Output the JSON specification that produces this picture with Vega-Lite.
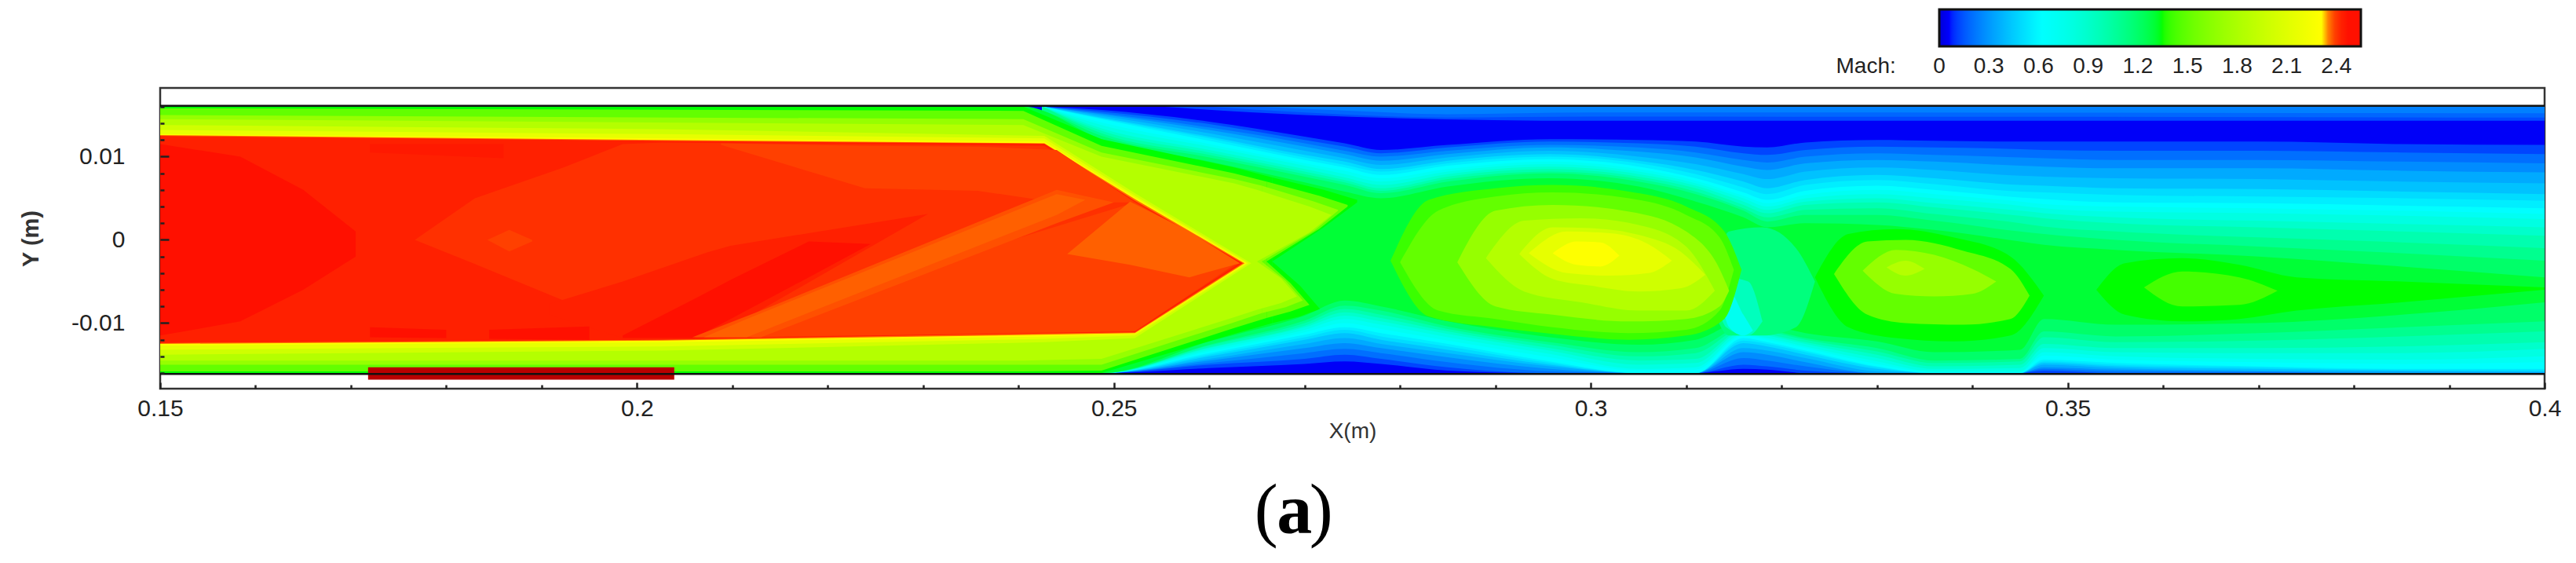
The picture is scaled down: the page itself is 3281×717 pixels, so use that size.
{
"$schema":"https://vega.github.io/schema/vega-lite/v6.json",
"width":3037,"height":383,
"autosize":{"type":"none"},
"padding":{"left":204,"top":112,"right":40,"bottom":222},
"background":"white",
"view":{"stroke":"#333333","strokeWidth":2.5,"fill":"white"},
"resolve":{"axis":{"x":"independent","y":"independent"}},
"layer":[
{"data":{"values":[
{"s":1,"m":0.05,"x":0.15,"y":0.016,"y2":-0.016},{"s":1,"m":0.05,"x":0.4,"y":0.016,"y2":-0.016},
{"s":101,"m":0.12,"x":0.2425,"y":0.016,"y2":-0.016},{"s":101,"m":0.12,"x":0.2487,"y":0.0156,"y2":-0.016},{"s":101,"m":0.12,"x":0.26,"y":0.0142,"y2":-0.0154},{"s":101,"m":0.12,"x":0.27,"y":0.0124,"y2":-0.0149},{"s":101,"m":0.12,"x":0.2742,"y":0.0116,"y2":-0.0146},{"s":101,"m":0.12,"x":0.278,"y":0.0108,"y2":-0.0149},{"s":101,"m":0.12,"x":0.285,"y":0.0114,"y2":-0.0157},{"s":101,"m":0.12,"x":0.2957,"y":0.0121,"y2":-0.016},{"s":101,"m":0.12,"x":0.305,"y":0.012,"y2":-0.016},{"s":101,"m":0.12,"x":0.311,"y":0.0118,"y2":-0.016},{"s":101,"m":0.12,"x":0.316,"y":0.0112,"y2":-0.0155},{"s":101,"m":0.12,"x":0.3185,"y":0.0111,"y2":-0.0156},{"s":101,"m":0.12,"x":0.3225,"y":0.0117,"y2":-0.016},{"s":101,"m":0.12,"x":0.33,"y":0.012,"y2":-0.016},{"s":101,"m":0.12,"x":0.336,"y":0.0119,"y2":-0.016},{"s":101,"m":0.12,"x":0.345,"y":0.0118,"y2":-0.016},{"s":101,"m":0.12,"x":0.3475,"y":0.0118,"y2":-0.016},{"s":101,"m":0.12,"x":0.355,"y":0.0118,"y2":-0.016},{"s":101,"m":0.12,"x":0.37,"y":0.0118,"y2":-0.016},{"s":101,"m":0.12,"x":0.385,"y":0.0115,"y2":-0.016},{"s":101,"m":0.12,"x":0.4,"y":0.0114,"y2":-0.016},
{"s":2,"m":0.2,"x":0.2425,"y":0.016,"y2":-0.016},{"s":2,"m":0.2,"x":0.2487,"y":0.0154,"y2":-0.016},{"s":2,"m":0.2,"x":0.26,"y":0.0139,"y2":-0.015},{"s":2,"m":0.2,"x":0.27,"y":0.012,"y2":-0.0143},{"s":2,"m":0.2,"x":0.2742,"y":0.0112,"y2":-0.0138},{"s":2,"m":0.2,"x":0.278,"y":0.0104,"y2":-0.0143},{"s":2,"m":0.2,"x":0.285,"y":0.0111,"y2":-0.0153},{"s":2,"m":0.2,"x":0.2957,"y":0.0118,"y2":-0.016},{"s":2,"m":0.2,"x":0.305,"y":0.0116,"y2":-0.016},{"s":2,"m":0.2,"x":0.311,"y":0.0112,"y2":-0.016},{"s":2,"m":0.2,"x":0.316,"y":0.0104,"y2":-0.015},{"s":2,"m":0.2,"x":0.3185,"y":0.0102,"y2":-0.0152},{"s":2,"m":0.2,"x":0.3225,"y":0.0108,"y2":-0.0157},{"s":2,"m":0.2,"x":0.33,"y":0.0112,"y2":-0.016},{"s":2,"m":0.2,"x":0.336,"y":0.0111,"y2":-0.016},{"s":2,"m":0.2,"x":0.345,"y":0.0109,"y2":-0.016},{"s":2,"m":0.2,"x":0.3475,"y":0.0108,"y2":-0.0157},{"s":2,"m":0.2,"x":0.355,"y":0.0107,"y2":-0.016},{"s":2,"m":0.2,"x":0.37,"y":0.0107,"y2":-0.016},{"s":2,"m":0.2,"x":0.385,"y":0.0105,"y2":-0.016},{"s":2,"m":0.2,"x":0.4,"y":0.0103,"y2":-0.016},
{"s":102,"m":0.27,"x":0.2425,"y":0.016,"y2":-0.016},{"s":102,"m":0.27,"x":0.2487,"y":0.0152,"y2":-0.016},{"s":102,"m":0.27,"x":0.26,"y":0.0135,"y2":-0.0148},{"s":102,"m":0.27,"x":0.27,"y":0.0116,"y2":-0.0136},{"s":102,"m":0.27,"x":0.2742,"y":0.0107,"y2":-0.0131},{"s":102,"m":0.27,"x":0.278,"y":0.01,"y2":-0.0136},{"s":102,"m":0.27,"x":0.285,"y":0.0107,"y2":-0.0147},{"s":102,"m":0.27,"x":0.2957,"y":0.0114,"y2":-0.0158},{"s":102,"m":0.27,"x":0.305,"y":0.0111,"y2":-0.016},{"s":102,"m":0.27,"x":0.311,"y":0.0105,"y2":-0.016},{"s":102,"m":0.27,"x":0.316,"y":0.0096,"y2":-0.0142},{"s":102,"m":0.27,"x":0.3185,"y":0.0093,"y2":-0.0145},{"s":102,"m":0.27,"x":0.3225,"y":0.01,"y2":-0.0152},{"s":102,"m":0.27,"x":0.33,"y":0.0104,"y2":-0.016},{"s":102,"m":0.27,"x":0.336,"y":0.0102,"y2":-0.016},{"s":102,"m":0.27,"x":0.345,"y":0.0099,"y2":-0.016},{"s":102,"m":0.27,"x":0.3475,"y":0.0098,"y2":-0.0155},{"s":102,"m":0.27,"x":0.355,"y":0.0096,"y2":-0.0158},{"s":102,"m":0.27,"x":0.37,"y":0.0096,"y2":-0.0159},{"s":102,"m":0.27,"x":0.385,"y":0.0094,"y2":-0.016},{"s":102,"m":0.27,"x":0.4,"y":0.0092,"y2":-0.016},
{"s":3,"m":0.35,"x":0.2425,"y":0.016,"y2":-0.016},{"s":3,"m":0.35,"x":0.2487,"y":0.0151,"y2":-0.016},{"s":3,"m":0.35,"x":0.26,"y":0.0132,"y2":-0.0145},{"s":3,"m":0.35,"x":0.27,"y":0.0112,"y2":-0.013},{"s":3,"m":0.35,"x":0.2742,"y":0.0103,"y2":-0.0124},{"s":3,"m":0.35,"x":0.278,"y":0.0095,"y2":-0.013},{"s":3,"m":0.35,"x":0.285,"y":0.0103,"y2":-0.0141},{"s":3,"m":0.35,"x":0.2957,"y":0.0111,"y2":-0.0155},{"s":3,"m":0.35,"x":0.305,"y":0.0106,"y2":-0.016},{"s":3,"m":0.35,"x":0.311,"y":0.0099,"y2":-0.016},{"s":3,"m":0.35,"x":0.316,"y":0.0088,"y2":-0.0135},{"s":3,"m":0.35,"x":0.3185,"y":0.0084,"y2":-0.0138},{"s":3,"m":0.35,"x":0.3225,"y":0.0092,"y2":-0.0147},{"s":3,"m":0.35,"x":0.33,"y":0.0096,"y2":-0.016},{"s":3,"m":0.35,"x":0.336,"y":0.0094,"y2":-0.016},{"s":3,"m":0.35,"x":0.345,"y":0.0089,"y2":-0.016},{"s":3,"m":0.35,"x":0.3475,"y":0.0088,"y2":-0.0153},{"s":3,"m":0.35,"x":0.355,"y":0.0086,"y2":-0.0156},{"s":3,"m":0.35,"x":0.37,"y":0.0086,"y2":-0.0158},{"s":3,"m":0.35,"x":0.385,"y":0.0083,"y2":-0.016},{"s":3,"m":0.35,"x":0.4,"y":0.0081,"y2":-0.016},
{"s":103,"m":0.42,"x":0.2425,"y":0.016,"y2":-0.016},{"s":103,"m":0.42,"x":0.2487,"y":0.0149,"y2":-0.016},{"s":103,"m":0.42,"x":0.26,"y":0.0128,"y2":-0.0143},{"s":103,"m":0.42,"x":0.27,"y":0.0107,"y2":-0.0125},{"s":103,"m":0.42,"x":0.2742,"y":0.0098,"y2":-0.0118},{"s":103,"m":0.42,"x":0.278,"y":0.009,"y2":-0.0125},{"s":103,"m":0.42,"x":0.285,"y":0.0099,"y2":-0.0136},{"s":103,"m":0.42,"x":0.2957,"y":0.0107,"y2":-0.0152},{"s":103,"m":0.42,"x":0.305,"y":0.01,"y2":-0.016},{"s":103,"m":0.42,"x":0.311,"y":0.0091,"y2":-0.016},{"s":103,"m":0.42,"x":0.316,"y":0.0079,"y2":-0.013},{"s":103,"m":0.42,"x":0.3185,"y":0.0073,"y2":-0.0133},{"s":103,"m":0.42,"x":0.3225,"y":0.0082,"y2":-0.0142},{"s":103,"m":0.42,"x":0.33,"y":0.0087,"y2":-0.0158},{"s":103,"m":0.42,"x":0.336,"y":0.0084,"y2":-0.016},{"s":103,"m":0.42,"x":0.345,"y":0.0077,"y2":-0.016},{"s":103,"m":0.42,"x":0.3475,"y":0.0076,"y2":-0.015},{"s":103,"m":0.42,"x":0.355,"y":0.0074,"y2":-0.0154},{"s":103,"m":0.42,"x":0.37,"y":0.0073,"y2":-0.0157},{"s":103,"m":0.42,"x":0.385,"y":0.007,"y2":-0.0158},{"s":103,"m":0.42,"x":0.4,"y":0.0068,"y2":-0.0159},
{"s":4,"m":0.5,"x":0.2425,"y":0.016,"y2":-0.016},{"s":4,"m":0.5,"x":0.2487,"y":0.0147,"y2":-0.016},{"s":4,"m":0.5,"x":0.26,"y":0.0124,"y2":-0.014},{"s":4,"m":0.5,"x":0.27,"y":0.0102,"y2":-0.012},{"s":4,"m":0.5,"x":0.2742,"y":0.0094,"y2":-0.0112},{"s":4,"m":0.5,"x":0.278,"y":0.0085,"y2":-0.012},{"s":4,"m":0.5,"x":0.285,"y":0.0095,"y2":-0.0132},{"s":4,"m":0.5,"x":0.2957,"y":0.0103,"y2":-0.015},{"s":4,"m":0.5,"x":0.305,"y":0.0095,"y2":-0.016},{"s":4,"m":0.5,"x":0.311,"y":0.0084,"y2":-0.016},{"s":4,"m":0.5,"x":0.316,"y":0.007,"y2":-0.0124},{"s":4,"m":0.5,"x":0.3185,"y":0.0062,"y2":-0.0128},{"s":4,"m":0.5,"x":0.3225,"y":0.0072,"y2":-0.0138},{"s":4,"m":0.5,"x":0.33,"y":0.0078,"y2":-0.0155},{"s":4,"m":0.5,"x":0.336,"y":0.0074,"y2":-0.016},{"s":4,"m":0.5,"x":0.345,"y":0.0066,"y2":-0.016},{"s":4,"m":0.5,"x":0.3475,"y":0.0065,"y2":-0.0148},{"s":4,"m":0.5,"x":0.355,"y":0.0062,"y2":-0.0152},{"s":4,"m":0.5,"x":0.37,"y":0.0061,"y2":-0.0155},{"s":4,"m":0.5,"x":0.385,"y":0.0058,"y2":-0.0157},{"s":4,"m":0.5,"x":0.4,"y":0.0055,"y2":-0.0158},
{"s":104,"m":0.56,"x":0.2425,"y":0.016,"y2":-0.016},{"s":104,"m":0.56,"x":0.2487,"y":0.0146,"y2":-0.016},{"s":104,"m":0.56,"x":0.26,"y":0.0122,"y2":-0.0138},{"s":104,"m":0.56,"x":0.27,"y":0.0099,"y2":-0.0117},{"s":104,"m":0.56,"x":0.2742,"y":0.009,"y2":-0.0108},{"s":104,"m":0.56,"x":0.278,"y":0.0082,"y2":-0.0116},{"s":104,"m":0.56,"x":0.285,"y":0.0092,"y2":-0.0128},{"s":104,"m":0.56,"x":0.2957,"y":0.01,"y2":-0.0148},{"s":104,"m":0.56,"x":0.305,"y":0.0092,"y2":-0.016},{"s":104,"m":0.56,"x":0.311,"y":0.0079,"y2":-0.016},{"s":104,"m":0.56,"x":0.316,"y":0.0063,"y2":-0.0121},{"s":104,"m":0.56,"x":0.3185,"y":0.0055,"y2":-0.0125},{"s":104,"m":0.56,"x":0.3225,"y":0.0066,"y2":-0.0135},{"s":104,"m":0.56,"x":0.33,"y":0.0072,"y2":-0.0153},{"s":104,"m":0.56,"x":0.336,"y":0.0067,"y2":-0.016},{"s":104,"m":0.56,"x":0.345,"y":0.0058,"y2":-0.016},{"s":104,"m":0.56,"x":0.3475,"y":0.0057,"y2":-0.0146},{"s":104,"m":0.56,"x":0.355,"y":0.0054,"y2":-0.015},{"s":104,"m":0.56,"x":0.37,"y":0.0052,"y2":-0.0153},{"s":104,"m":0.56,"x":0.385,"y":0.005,"y2":-0.0156},{"s":104,"m":0.56,"x":0.4,"y":0.0047,"y2":-0.0156},
{"s":5,"m":0.62,"x":0.2425,"y":0.016,"y2":-0.016},{"s":5,"m":0.62,"x":0.2487,"y":0.0145,"y2":-0.016},{"s":5,"m":0.62,"x":0.26,"y":0.0119,"y2":-0.0136},{"s":5,"m":0.62,"x":0.27,"y":0.0096,"y2":-0.0114},{"s":5,"m":0.62,"x":0.2742,"y":0.0087,"y2":-0.0105},{"s":5,"m":0.62,"x":0.278,"y":0.0078,"y2":-0.0112},{"s":5,"m":0.62,"x":0.285,"y":0.0089,"y2":-0.0125},{"s":5,"m":0.62,"x":0.2957,"y":0.0097,"y2":-0.0146},{"s":5,"m":0.62,"x":0.305,"y":0.0088,"y2":-0.016},{"s":5,"m":0.62,"x":0.311,"y":0.0074,"y2":-0.016},{"s":5,"m":0.62,"x":0.316,"y":0.0057,"y2":-0.0118},{"s":5,"m":0.62,"x":0.3185,"y":0.0048,"y2":-0.0123},{"s":5,"m":0.62,"x":0.3225,"y":0.0059,"y2":-0.0133},{"s":5,"m":0.62,"x":0.33,"y":0.0065,"y2":-0.0152},{"s":5,"m":0.62,"x":0.336,"y":0.006,"y2":-0.016},{"s":5,"m":0.62,"x":0.345,"y":0.0051,"y2":-0.016},{"s":5,"m":0.62,"x":0.3475,"y":0.0049,"y2":-0.0144},{"s":5,"m":0.62,"x":0.355,"y":0.0045,"y2":-0.0148},{"s":5,"m":0.62,"x":0.37,"y":0.0044,"y2":-0.0152},{"s":5,"m":0.62,"x":0.385,"y":0.0041,"y2":-0.0155},{"s":5,"m":0.62,"x":0.4,"y":0.0038,"y2":-0.0155},
{"s":105,"m":0.71,"x":0.2425,"y":0.016,"y2":-0.016},{"s":105,"m":0.71,"x":0.2487,"y":0.0141,"y2":-0.016},{"s":105,"m":0.71,"x":0.26,"y":0.0115,"y2":-0.0134},{"s":105,"m":0.71,"x":0.27,"y":0.0092,"y2":-0.0111},{"s":105,"m":0.71,"x":0.2742,"y":0.0083,"y2":-0.01},{"s":105,"m":0.71,"x":0.278,"y":0.0074,"y2":-0.0107},{"s":105,"m":0.71,"x":0.285,"y":0.0085,"y2":-0.0121},{"s":105,"m":0.71,"x":0.2957,"y":0.0094,"y2":-0.0141},{"s":105,"m":0.71,"x":0.305,"y":0.0085,"y2":-0.0157},{"s":105,"m":0.71,"x":0.311,"y":0.0071,"y2":-0.0156},{"s":105,"m":0.71,"x":0.316,"y":0.0053,"y2":-0.0115},{"s":105,"m":0.71,"x":0.3185,"y":0.0044,"y2":-0.012},{"s":105,"m":0.71,"x":0.3225,"y":0.0054,"y2":-0.013},{"s":105,"m":0.71,"x":0.33,"y":0.006,"y2":-0.0149},{"s":105,"m":0.71,"x":0.336,"y":0.0055,"y2":-0.0159},{"s":105,"m":0.71,"x":0.345,"y":0.0046,"y2":-0.0159},{"s":105,"m":0.71,"x":0.3475,"y":0.0043,"y2":-0.0139},{"s":105,"m":0.71,"x":0.355,"y":0.004,"y2":-0.0144},{"s":105,"m":0.71,"x":0.37,"y":0.0038,"y2":-0.0147},{"s":105,"m":0.71,"x":0.385,"y":0.0035,"y2":-0.0149},{"s":105,"m":0.71,"x":0.4,"y":0.0031,"y2":-0.0147},
{"s":6,"m":0.8,"x":0.2425,"y":0.016,"y2":-0.016},{"s":6,"m":0.8,"x":0.2487,"y":0.0138,"y2":-0.016},{"s":6,"m":0.8,"x":0.26,"y":0.0112,"y2":-0.0132},{"s":6,"m":0.8,"x":0.27,"y":0.0089,"y2":-0.0108},{"s":6,"m":0.8,"x":0.2742,"y":0.0079,"y2":-0.0095},{"s":6,"m":0.8,"x":0.278,"y":0.007,"y2":-0.0102},{"s":6,"m":0.8,"x":0.285,"y":0.0082,"y2":-0.0117},{"s":6,"m":0.8,"x":0.2957,"y":0.0091,"y2":-0.0137},{"s":6,"m":0.8,"x":0.305,"y":0.0082,"y2":-0.0155},{"s":6,"m":0.8,"x":0.311,"y":0.0068,"y2":-0.0153},{"s":6,"m":0.8,"x":0.316,"y":0.005,"y2":-0.0113},{"s":6,"m":0.8,"x":0.3185,"y":0.004,"y2":-0.0118},{"s":6,"m":0.8,"x":0.3225,"y":0.005,"y2":-0.0128},{"s":6,"m":0.8,"x":0.33,"y":0.0055,"y2":-0.0146},{"s":6,"m":0.8,"x":0.336,"y":0.005,"y2":-0.0158},{"s":6,"m":0.8,"x":0.345,"y":0.0041,"y2":-0.0158},{"s":6,"m":0.8,"x":0.3475,"y":0.0038,"y2":-0.0135},{"s":6,"m":0.8,"x":0.355,"y":0.0034,"y2":-0.014},{"s":6,"m":0.8,"x":0.37,"y":0.0032,"y2":-0.0143},{"s":6,"m":0.8,"x":0.385,"y":0.0029,"y2":-0.0144},{"s":6,"m":0.8,"x":0.4,"y":0.0025,"y2":-0.014},
{"s":106,"m":0.9,"x":0.2425,"y":0.016,"y2":-0.016},{"s":106,"m":0.9,"x":0.2487,"y":0.0134,"y2":-0.016},{"s":106,"m":0.9,"x":0.26,"y":0.0108,"y2":-0.013},{"s":106,"m":0.9,"x":0.27,"y":0.0085,"y2":-0.0105},{"s":106,"m":0.9,"x":0.2742,"y":0.0075,"y2":-0.0091},{"s":106,"m":0.9,"x":0.278,"y":0.0066,"y2":-0.0098},{"s":106,"m":0.9,"x":0.285,"y":0.0079,"y2":-0.0113},{"s":106,"m":0.9,"x":0.2957,"y":0.0088,"y2":-0.0133},{"s":106,"m":0.9,"x":0.305,"y":0.0079,"y2":-0.015},{"s":106,"m":0.9,"x":0.311,"y":0.0065,"y2":-0.0148},{"s":106,"m":0.9,"x":0.316,"y":0.0046,"y2":-0.011},{"s":106,"m":0.9,"x":0.3185,"y":0.0036,"y2":-0.0115},{"s":106,"m":0.9,"x":0.3225,"y":0.0046,"y2":-0.0125},{"s":106,"m":0.9,"x":0.33,"y":0.005,"y2":-0.0142},{"s":106,"m":0.9,"x":0.336,"y":0.0044,"y2":-0.0155},{"s":106,"m":0.9,"x":0.345,"y":0.0035,"y2":-0.0154},{"s":106,"m":0.9,"x":0.3475,"y":0.0032,"y2":-0.013},{"s":106,"m":0.9,"x":0.355,"y":0.0027,"y2":-0.0135},{"s":106,"m":0.9,"x":0.37,"y":0.0023,"y2":-0.0136},{"s":106,"m":0.9,"x":0.385,"y":0.0019,"y2":-0.0136},{"s":106,"m":0.9,"x":0.4,"y":0.0015,"y2":-0.0131},
{"s":7,"m":1.0,"x":0.2425,"y":0.016,"y2":-0.016},{"s":7,"m":1.0,"x":0.2487,"y":0.0131,"y2":-0.016},{"s":7,"m":1.0,"x":0.26,"y":0.0105,"y2":-0.0129},{"s":7,"m":1.0,"x":0.27,"y":0.0082,"y2":-0.0103},{"s":7,"m":1.0,"x":0.2742,"y":0.0072,"y2":-0.0087},{"s":7,"m":1.0,"x":0.278,"y":0.0062,"y2":-0.0094},{"s":7,"m":1.0,"x":0.285,"y":0.0076,"y2":-0.011},{"s":7,"m":1.0,"x":0.2957,"y":0.0085,"y2":-0.013},{"s":7,"m":1.0,"x":0.305,"y":0.0076,"y2":-0.0145},{"s":7,"m":1.0,"x":0.311,"y":0.0062,"y2":-0.0143},{"s":7,"m":1.0,"x":0.316,"y":0.0042,"y2":-0.0108},{"s":7,"m":1.0,"x":0.3185,"y":0.0032,"y2":-0.0113},{"s":7,"m":1.0,"x":0.3225,"y":0.0042,"y2":-0.0123},{"s":7,"m":1.0,"x":0.33,"y":0.0045,"y2":-0.0138},{"s":7,"m":1.0,"x":0.336,"y":0.0039,"y2":-0.0152},{"s":7,"m":1.0,"x":0.345,"y":0.0029,"y2":-0.015},{"s":7,"m":1.0,"x":0.3475,"y":0.0026,"y2":-0.0125},{"s":7,"m":1.0,"x":0.355,"y":0.002,"y2":-0.013},{"s":7,"m":1.0,"x":0.37,"y":0.0015,"y2":-0.013},{"s":7,"m":1.0,"x":0.385,"y":0.001,"y2":-0.0128},{"s":7,"m":1.0,"x":0.4,"y":0.0005,"y2":-0.0123},
{"s":107,"m":1.1,"x":0.2425,"y":0.016,"y2":-0.016},{"s":107,"m":1.1,"x":0.2487,"y":0.0128,"y2":-0.016},{"s":107,"m":1.1,"x":0.26,"y":0.0102,"y2":-0.0127},{"s":107,"m":1.1,"x":0.27,"y":0.0079,"y2":-0.01},{"s":107,"m":1.1,"x":0.2742,"y":0.0069,"y2":-0.0083},{"s":107,"m":1.1,"x":0.278,"y":0.0059,"y2":-0.009},{"s":107,"m":1.1,"x":0.285,"y":0.0073,"y2":-0.0107},{"s":107,"m":1.1,"x":0.2957,"y":0.0082,"y2":-0.0126},{"s":107,"m":1.1,"x":0.305,"y":0.0073,"y2":-0.014},{"s":107,"m":1.1,"x":0.311,"y":0.0058,"y2":-0.0136},{"s":107,"m":1.1,"x":0.316,"y":0.0038,"y2":-0.0106},{"s":107,"m":1.1,"x":0.3185,"y":0.0027,"y2":-0.011},{"s":107,"m":1.1,"x":0.3225,"y":0.0036,"y2":-0.012},{"s":107,"m":1.1,"x":0.33,"y":0.0038,"y2":-0.0134},{"s":107,"m":1.1,"x":0.336,"y":0.0031,"y2":-0.0148},{"s":107,"m":1.1,"x":0.345,"y":0.002,"y2":-0.0146},{"s":107,"m":1.1,"x":0.3475,"y":0.0016,"y2":-0.0117},{"s":107,"m":1.1,"x":0.355,"y":0.001,"y2":-0.0123},{"s":107,"m":1.1,"x":0.37,"y":0.0003,"y2":-0.0121},{"s":107,"m":1.1,"x":0.385,"y":-0.0003,"y2":-0.0116},{"s":107,"m":1.1,"x":0.4,"y":-0.001,"y2":-0.011},
{"s":8,"m":1.2,"x":0.2405,"y":0.016,"y2":-0.016},{"s":8,"m":1.2,"x":0.2425,"y":0.0155,"y2":-0.016},{"s":8,"m":1.2,"x":0.2487,"y":0.0125,"y2":-0.016},{"s":8,"m":1.2,"x":0.26,"y":0.0099,"y2":-0.0126},{"s":8,"m":1.2,"x":0.27,"y":0.0076,"y2":-0.0097},{"s":8,"m":1.2,"x":0.2742,"y":0.0066,"y2":-0.0079},{"s":8,"m":1.2,"x":0.278,"y":0.0056,"y2":-0.0085},{"s":8,"m":1.2,"x":0.285,"y":0.007,"y2":-0.0104},{"s":8,"m":1.2,"x":0.2957,"y":0.008,"y2":-0.0123},{"s":8,"m":1.2,"x":0.305,"y":0.007,"y2":-0.0135},{"s":8,"m":1.2,"x":0.311,"y":0.0055,"y2":-0.013},{"s":8,"m":1.2,"x":0.316,"y":0.0035,"y2":-0.0104},{"s":8,"m":1.2,"x":0.3185,"y":0.0022,"y2":-0.0108},{"s":8,"m":1.2,"x":0.3225,"y":0.003,"y2":-0.0118},{"s":8,"m":1.2,"x":0.33,"y":0.003,"y2":-0.013},{"s":8,"m":1.2,"x":0.336,"y":0.0023,"y2":-0.0145},{"s":8,"m":1.2,"x":0.345,"y":0.001,"y2":-0.0143},{"s":8,"m":1.2,"x":0.3475,"y":0.0007,"y2":-0.011},{"s":8,"m":1.2,"x":0.355,"y":0.0,"y2":-0.0116},{"s":8,"m":1.2,"x":0.37,"y":-0.0008,"y2":-0.0112},{"s":8,"m":1.2,"x":0.385,"y":-0.0016,"y2":-0.0105},{"s":8,"m":1.2,"x":0.4,"y":-0.0025,"y2":-0.0098},
{"s":9,"m":1.3,"x":0.15,"y":0.016,"y2":-0.016},{"s":9,"m":1.3,"x":0.2405,"y":0.016,"y2":-0.016},{"s":9,"m":1.3,"x":0.2487,"y":0.0121,"y2":-0.016},{"s":9,"m":1.3,"x":0.26,"y":0.0094,"y2":-0.0122},{"s":9,"m":1.3,"x":0.27,"y":0.0069,"y2":-0.0091},{"s":9,"m":1.3,"x":0.2742,"y":0.0058,"y2":-0.0073},{"s":9,"m":1.3,"x":0.278,"y":0.005,"y2":-0.008},{"s":9,"m":1.3,"x":0.285,"y":0.0064,"y2":-0.0098},{"s":9,"m":1.3,"x":0.2957,"y":0.0074,"y2":-0.0117},{"s":9,"m":1.3,"x":0.305,"y":0.0064,"y2":-0.0126},{"s":9,"m":1.3,"x":0.311,"y":0.0046,"y2":-0.012},{"s":9,"m":1.3,"x":0.316,"y":0.0027,"y2":-0.0098},{"s":9,"m":1.3,"x":0.3185,"y":0.0015,"y2":-0.0102},{"s":9,"m":1.3,"x":0.3225,"y":0.002,"y2":-0.0112},{"s":9,"m":1.3,"x":0.33,"y":0.0018,"y2":-0.0122},{"s":9,"m":1.3,"x":0.336,"y":0.0012,"y2":-0.0135},{"s":9,"m":1.3,"x":0.345,"y":-0.0002,"y2":-0.0132},{"s":9,"m":1.3,"x":0.3475,"y":-0.0006,"y2":-0.0095},{"s":9,"m":1.3,"x":0.355,"y":-0.0012,"y2":-0.0102},{"s":9,"m":1.3,"x":0.37,"y":-0.002,"y2":-0.01},{"s":9,"m":1.3,"x":0.385,"y":-0.0032,"y2":-0.009},{"s":9,"m":1.3,"x":0.4,"y":-0.0045,"y2":-0.0075},
{"s":10,"m":0.13,"x":0.255,"y":0.016,"y2":0.016},{"s":10,"m":0.13,"x":0.27,"y":0.016,"y2":0.015},{"s":10,"m":0.13,"x":0.3,"y":0.016,"y2":0.0143},{"s":10,"m":0.13,"x":0.4,"y":0.016,"y2":0.0143},
{"s":110,"m":0.18,"x":0.26,"y":0.016,"y2":0.016},{"s":110,"m":0.18,"x":0.27,"y":0.016,"y2":0.0153},{"s":110,"m":0.18,"x":0.285,"y":0.016,"y2":0.0147},{"s":110,"m":0.18,"x":0.3,"y":0.016,"y2":0.0148},{"s":110,"m":0.18,"x":0.4,"y":0.016,"y2":0.0147},
{"s":11,"m":0.24,"x":0.265,"y":0.016,"y2":0.016},{"s":11,"m":0.24,"x":0.275,"y":0.016,"y2":0.0155},{"s":11,"m":0.24,"x":0.285,"y":0.016,"y2":0.0151},{"s":11,"m":0.24,"x":0.3,"y":0.016,"y2":0.0153},{"s":11,"m":0.24,"x":0.4,"y":0.016,"y2":0.0152},
{"s":12,"m":1.15,"x":0.3125,"y":-0.0072,"y2":-0.0072},{"s":12,"m":1.15,"x":0.3145,"y":0.001,"y2":-0.0115},{"s":12,"m":1.15,"x":0.318,"y":0.0015,"y2":-0.0115},{"s":12,"m":1.15,"x":0.3215,"y":-0.001,"y2":-0.0105},{"s":12,"m":1.15,"x":0.3235,"y":-0.005,"y2":-0.005},
{"s":13,"m":0.95,"x":0.313,"y":-0.0067,"y2":-0.0067},{"s":13,"m":0.95,"x":0.3142,"y":-0.0045,"y2":-0.0105},{"s":13,"m":0.95,"x":0.3165,"y":-0.005,"y2":-0.0115},{"s":13,"m":0.95,"x":0.318,"y":-0.0098,"y2":-0.0098},
{"s":14,"m":0.72,"x":0.3136,"y":-0.007,"y2":-0.007},{"s":14,"m":0.72,"x":0.3145,"y":-0.0062,"y2":-0.0105},{"s":14,"m":0.72,"x":0.316,"y":-0.009,"y2":-0.0115},{"s":14,"m":0.72,"x":0.317,"y":-0.0109,"y2":-0.0109},
{"s":59,"m":1.4,"x":0.279,"y":-0.0025,"y2":-0.0025},{"s":59,"m":1.4,"x":0.283,"y":0.0048,"y2":-0.0092},{"s":59,"m":1.4,"x":0.29,"y":0.0062,"y2":-0.0105},{"s":59,"m":1.4,"x":0.296,"y":0.0066,"y2":-0.0113},{"s":59,"m":1.4,"x":0.304,"y":0.0058,"y2":-0.012},{"s":59,"m":1.4,"x":0.31,"y":0.004,"y2":-0.0115},{"s":59,"m":1.4,"x":0.314,"y":0.001,"y2":-0.0095},{"s":59,"m":1.4,"x":0.3158,"y":-0.0036,"y2":-0.0036},
{"s":60,"m":1.5,"x":0.28,"y":-0.0027,"y2":-0.0027},{"s":60,"m":1.5,"x":0.284,"y":0.0035,"y2":-0.0085},{"s":60,"m":1.5,"x":0.29,"y":0.0052,"y2":-0.0095},{"s":60,"m":1.5,"x":0.296,"y":0.0057,"y2":-0.0105},{"s":60,"m":1.5,"x":0.304,"y":0.005,"y2":-0.0112},{"s":60,"m":1.5,"x":0.31,"y":0.003,"y2":-0.0108},{"s":60,"m":1.5,"x":0.3135,"y":0.0003,"y2":-0.0085},{"s":60,"m":1.5,"x":0.315,"y":-0.0036,"y2":-0.0036},
{"s":61,"m":1.7,"x":0.286,"y":-0.0027,"y2":-0.0027},{"s":61,"m":1.7,"x":0.29,"y":0.0035,"y2":-0.008},{"s":61,"m":1.7,"x":0.296,"y":0.0042,"y2":-0.009},{"s":61,"m":1.7,"x":0.304,"y":0.0034,"y2":-0.0098},{"s":61,"m":1.7,"x":0.31,"y":0.001,"y2":-0.0095},{"s":61,"m":1.7,"x":0.3135,"y":-0.0035,"y2":-0.008},{"s":61,"m":1.7,"x":0.3145,"y":-0.0061,"y2":-0.0061},
{"s":62,"m":1.85,"x":0.289,"y":-0.0022,"y2":-0.0022},{"s":62,"m":1.85,"x":0.293,"y":0.0023,"y2":-0.0062},{"s":62,"m":1.85,"x":0.299,"y":0.0026,"y2":-0.0075},{"s":62,"m":1.85,"x":0.305,"y":0.0018,"y2":-0.0085},{"s":62,"m":1.85,"x":0.31,"y":-0.0008,"y2":-0.0085},{"s":62,"m":1.85,"x":0.313,"y":-0.0061,"y2":-0.0061},
{"s":63,"m":2.0,"x":0.2925,"y":-0.0017,"y2":-0.0017},{"s":63,"m":2.0,"x":0.296,"y":0.0015,"y2":-0.0047},{"s":63,"m":2.0,"x":0.3,"y":0.0014,"y2":-0.0055},{"s":63,"m":2.0,"x":0.305,"y":0.0006,"y2":-0.0062},{"s":63,"m":2.0,"x":0.3095,"y":-0.0015,"y2":-0.0058},{"s":63,"m":2.0,"x":0.312,"y":-0.0042,"y2":-0.0042},
{"s":64,"m":2.15,"x":0.2935,"y":-0.0016,"y2":-0.0016},{"s":64,"m":2.15,"x":0.2975,"y":0.001,"y2":-0.004},{"s":64,"m":2.15,"x":0.302,"y":0.0008,"y2":-0.0043},{"s":64,"m":2.15,"x":0.306,"y":-0.0005,"y2":-0.004},{"s":64,"m":2.15,"x":0.3085,"y":-0.0025,"y2":-0.0025},
{"s":65,"m":2.3,"x":0.296,"y":-0.0016,"y2":-0.0016},{"s":65,"m":2.3,"x":0.2985,"y":-0.0002,"y2":-0.003},{"s":65,"m":2.3,"x":0.301,"y":-0.0003,"y2":-0.0032},{"s":65,"m":2.3,"x":0.303,"y":-0.0019,"y2":-0.0019},
{"s":70,"m":1.345,"x":0.3235,"y":-0.0045,"y2":-0.0045},{"s":70,"m":1.345,"x":0.327,"y":0.0007,"y2":-0.0105},{"s":70,"m":1.345,"x":0.332,"y":0.0013,"y2":-0.0118},{"s":70,"m":1.345,"x":0.338,"y":0.0003,"y2":-0.0122},{"s":70,"m":1.345,"x":0.344,"y":-0.002,"y2":-0.0115},{"s":70,"m":1.345,"x":0.3475,"y":-0.0067,"y2":-0.0067},
{"s":71,"m":1.5,"x":0.3255,"y":-0.0041,"y2":-0.0041},{"s":71,"m":1.5,"x":0.329,"y":-0.0002,"y2":-0.009},{"s":71,"m":1.5,"x":0.333,"y":0.0,"y2":-0.01},{"s":71,"m":1.5,"x":0.339,"y":-0.0013,"y2":-0.0102},{"s":71,"m":1.5,"x":0.344,"y":-0.0035,"y2":-0.0095},{"s":71,"m":1.5,"x":0.346,"y":-0.0067,"y2":-0.0067},
{"s":72,"m":1.7,"x":0.3285,"y":-0.0037,"y2":-0.0037},{"s":72,"m":1.7,"x":0.332,"y":-0.0012,"y2":-0.0065},{"s":72,"m":1.7,"x":0.336,"y":-0.0018,"y2":-0.0068},{"s":72,"m":1.7,"x":0.34,"y":-0.0035,"y2":-0.0065},{"s":72,"m":1.7,"x":0.3425,"y":-0.005,"y2":-0.005},
{"s":73,"m":1.85,"x":0.331,"y":-0.0033,"y2":-0.0033},{"s":73,"m":1.85,"x":0.333,"y":-0.0025,"y2":-0.0043},{"s":73,"m":1.85,"x":0.335,"y":-0.0035,"y2":-0.0035},
{"s":75,"m":1.345,"x":0.353,"y":-0.006,"y2":-0.006},{"s":75,"m":1.345,"x":0.356,"y":-0.0028,"y2":-0.009},{"s":75,"m":1.345,"x":0.362,"y":-0.0022,"y2":-0.0098},{"s":75,"m":1.345,"x":0.368,"y":-0.003,"y2":-0.0095},{"s":75,"m":1.345,"x":0.374,"y":-0.0045,"y2":-0.0085},{"s":75,"m":1.345,"x":0.385,"y":-0.005,"y2":-0.0075},{"s":75,"m":1.345,"x":0.4,"y":-0.0057,"y2":-0.006},
{"s":76,"m":1.42,"x":0.358,"y":-0.0057,"y2":-0.0057},{"s":76,"m":1.42,"x":0.362,"y":-0.0038,"y2":-0.008},{"s":76,"m":1.42,"x":0.368,"y":-0.0045,"y2":-0.0078},{"s":76,"m":1.42,"x":0.372,"y":-0.0061,"y2":-0.0061}
]},
"mark":{"type":"area","clip":true,"interpolate":"monotone"},
"encoding":{
"x":{"field":"x","type":"quantitative","scale":{"domain":[0.15,0.4],"nice":false,"zero":false},
"axis":{"orient":"bottom","values":[0.15,0.2,0.25,0.3,0.35,0.4],"labelExpr":"''+datum.value","grid":false,"domain":false,"tickSize":-8,"tickWidth":2.5,"tickColor":"#222222","labelFont":"Liberation Sans","labelFontSize":30,"labelColor":"#222222","labelPadding":18,"labelFlush":false,"labelOverlap":false,"title":"X(m)","titleFont":"Liberation Sans","titleFontSize":28,"titleFontWeight":"normal","titleColor":"#333333","titlePadding":0,"zindex":1}},
"y":{"field":"y","type":"quantitative","scale":{"domain":[-0.01788,0.01825],"nice":false,"zero":false},
"axis":{"orient":"left","values":[-0.01,0,0.01],"labelExpr":"''+datum.value","grid":false,"domain":false,"tickSize":-11,"tickWidth":2.5,"tickColor":"#222222","labelFont":"Liberation Sans","labelFontSize":30,"labelColor":"#222222","labelPadding":56,"labelOverlap":false,"labelFlush":false,"title":"Y (m)","titleFont":"Liberation Sans","titleFontSize":29,"titleFontWeight":"bold","titleColor":"#333333","titlePadding":36,"zindex":1}},
"y2":{"field":"y2"},
"detail":{"field":"s","type":"nominal"},
"color":{"field":"m","type":"quantitative",
"scale":{"domain":[0,0.06,0.62,1.345,2.31,2.33,2.35,2.37,2.38,2.39,2.41,2.43,2.47,2.548],"range":["#0000d8","#0000ff","#00ffff","#00ff00","#ffff00","#ffc000","#ff8000","#ff6000","#ff5000","#ff4000","#ff3000","#ff2000","#ff1000","#ff1000"]},
"legend":{"orient":"none","legendX":2266,"legendY":-100,"direction":"horizontal","gradientLength":537,"gradientThickness":47,"gradientStrokeColor":"#111111","gradientStrokeWidth":3,
"title":null,
"values":[0,0.3,0.6,0.9,1.2,1.5,1.8,2.1,2.4],"labelExpr":"''+datum.value","labelFont":"Liberation Sans","labelFontSize":28,"labelColor":"#222222","labelOffset":12,"labelOverlap":false,
"encode":{"gradient":{"update":{"fill":{"gradient":"color","start":[0,0],"stop":[1,0],"count":255}}},"labels":{"update":{"align":{"value":"center"}}}}}}
}},
{"data":{"values":[
{"s":20,"m":1.345,"x":0.15,"y":0.016,"y2":-0.016},{"s":20,"m":1.345,"x":0.2405,"y":0.016,"y2":-0.016},{"s":20,"m":1.345,"x":0.2487,"y":0.0121,"y2":-0.016},{"s":20,"m":1.345,"x":0.2626,"y":0.0087,"y2":-0.0113},{"s":20,"m":1.345,"x":0.2666,"y":0.0075,"y2":-0.01},
{"s":21,"m":1.345,"x":0.2666,"y":0.0075,"y2":-0.0026},{"s":21,"m":1.345,"x":0.272,"y":0.006,"y2":0.0015},{"s":21,"m":1.345,"x":0.2755,"y":0.0048,"y2":0.0045},
{"s":22,"m":1.345,"x":0.2666,"y":-0.0026,"y2":-0.01},{"s":22,"m":1.345,"x":0.2695,"y":-0.0055,"y2":-0.0092},{"s":22,"m":1.345,"x":0.2716,"y":-0.0083,"y2":-0.0083},
{"s":23,"m":1.5,"x":0.15,"y":0.0158,"y2":-0.0158},{"s":23,"m":1.5,"x":0.2405,"y":0.0155,"y2":-0.0158},{"s":23,"m":1.5,"x":0.2487,"y":0.0113,"y2":-0.0157},{"s":23,"m":1.5,"x":0.2626,"y":0.008,"y2":-0.0106},{"s":23,"m":1.5,"x":0.266,"y":0.007,"y2":-0.0094},
{"s":24,"m":1.5,"x":0.266,"y":0.007,"y2":-0.0026},{"s":24,"m":1.5,"x":0.2715,"y":0.0053,"y2":0.0013},{"s":24,"m":1.5,"x":0.2745,"y":0.0042,"y2":0.004},
{"s":25,"m":1.5,"x":0.266,"y":-0.0026,"y2":-0.0094},{"s":25,"m":1.5,"x":0.2685,"y":-0.0052,"y2":-0.0086},{"s":25,"m":1.5,"x":0.2705,"y":-0.0078,"y2":-0.0078},
{"s":26,"m":1.7,"x":0.15,"y":0.015,"y2":-0.015},{"s":26,"m":1.7,"x":0.2405,"y":0.0145,"y2":-0.015},{"s":26,"m":1.7,"x":0.2487,"y":0.0105,"y2":-0.015},{"s":26,"m":1.7,"x":0.2626,"y":0.0073,"y2":-0.0099},{"s":26,"m":1.7,"x":0.2655,"y":0.0065,"y2":-0.0088},
{"s":27,"m":1.7,"x":0.2655,"y":0.0065,"y2":-0.0026},{"s":27,"m":1.7,"x":0.271,"y":0.0046,"y2":0.0011},{"s":27,"m":1.7,"x":0.2735,"y":0.0036,"y2":0.0035},
{"s":28,"m":1.7,"x":0.2655,"y":-0.0026,"y2":-0.0088},{"s":28,"m":1.7,"x":0.268,"y":-0.0049,"y2":-0.0081},{"s":28,"m":1.7,"x":0.2698,"y":-0.0073,"y2":-0.0073},
{"s":29,"m":1.85,"x":0.15,"y":0.0145,"y2":-0.0145},{"s":29,"m":1.85,"x":0.2405,"y":0.0138,"y2":-0.0145},{"s":29,"m":1.85,"x":0.2487,"y":0.01,"y2":-0.0143},{"s":29,"m":1.85,"x":0.2626,"y":0.0068,"y2":-0.0093},{"s":29,"m":1.85,"x":0.265,"y":0.006,"y2":-0.0084},
{"s":30,"m":1.85,"x":0.265,"y":0.006,"y2":-0.0026},{"s":30,"m":1.85,"x":0.2705,"y":0.004,"y2":0.0009},{"s":30,"m":1.85,"x":0.2728,"y":0.003,"y2":0.003},
{"s":31,"m":1.85,"x":0.265,"y":-0.0026,"y2":-0.0084},{"s":31,"m":1.85,"x":0.2675,"y":-0.0046,"y2":-0.0076},{"s":31,"m":1.85,"x":0.2692,"y":-0.0068,"y2":-0.0068},
{"s":32,"m":2.0,"x":0.15,"y":0.0138,"y2":-0.0138},{"s":32,"m":2.0,"x":0.2026,"y":0.0133,"y2":-0.0133},{"s":32,"m":2.0,"x":0.2427,"y":0.0125,"y2":-0.0123},{"s":32,"m":2.0,"x":0.2522,"y":0.0056,"y2":-0.0118},{"s":32,"m":2.0,"x":0.2644,"y":-0.0028,"y2":-0.0028},
{"s":33,"m":2.15,"x":0.15,"y":0.0132,"y2":-0.0132},{"s":33,"m":2.15,"x":0.2026,"y":0.0127,"y2":-0.0128},{"s":33,"m":2.15,"x":0.2427,"y":0.0122,"y2":-0.0119},{"s":33,"m":2.15,"x":0.2522,"y":0.0053,"y2":-0.0115},{"s":33,"m":2.15,"x":0.2641,"y":-0.0028,"y2":-0.0028},
{"s":34,"m":2.31,"x":0.15,"y":0.0127,"y2":-0.0127},{"s":34,"m":2.31,"x":0.2026,"y":0.0122,"y2":-0.0123},{"s":34,"m":2.31,"x":0.2427,"y":0.0118,"y2":-0.0116},{"s":34,"m":2.31,"x":0.2522,"y":0.0051,"y2":-0.0113},{"s":34,"m":2.31,"x":0.2639,"y":-0.0028,"y2":-0.0028},
{"s":35,"m":2.36,"x":0.15,"y":0.0126,"y2":-0.0125},{"s":35,"m":2.36,"x":0.2026,"y":0.012,"y2":-0.0121},{"s":35,"m":2.36,"x":0.2427,"y":0.0116,"y2":-0.0114},{"s":35,"m":2.36,"x":0.2522,"y":0.0049,"y2":-0.0112},{"s":35,"m":2.36,"x":0.2637,"y":-0.0028,"y2":-0.0028},
{"s":36,"m":2.43,"x":0.15,"y":0.0125,"y2":-0.0124},{"s":36,"m":2.43,"x":0.2026,"y":0.0119,"y2":-0.012},{"s":36,"m":2.43,"x":0.2427,"y":0.01155,"y2":-0.01125},{"s":36,"m":2.43,"x":0.2522,"y":0.0047,"y2":-0.0111},{"s":36,"m":2.43,"x":0.2635,"y":-0.0028,"y2":-0.0028},
{"s":37,"m":2.47,"x":0.15,"y":0.0115,"y2":-0.0115},{"s":37,"m":2.47,"x":0.1584,"y":0.01,"y2":-0.0098},{"s":37,"m":2.47,"x":0.165,"y":0.006,"y2":-0.006},{"s":37,"m":2.47,"x":0.1705,"y":0.001,"y2":-0.002},
{"s":38,"m":2.41,"x":0.1767,"y":0.0,"y2":0.0},{"s":38,"m":2.41,"x":0.183,"y":0.005,"y2":-0.0029},{"s":38,"m":2.41,"x":0.1923,"y":0.0087,"y2":-0.0073},{"s":38,"m":2.41,"x":0.1985,"y":0.0115,"y2":-0.0118},{"s":38,"m":2.41,"x":0.2026,"y":0.0117,"y2":-0.0118},{"s":38,"m":2.41,"x":0.2427,"y":0.0113,"y2":-0.011},{"s":38,"m":2.41,"x":0.2522,"y":0.0046,"y2":-0.0109},{"s":38,"m":2.41,"x":0.2632,"y":-0.0028,"y2":-0.0028},
{"s":39,"m":2.39,"x":0.1843,"y":0.0,"y2":0.0},{"s":39,"m":2.39,"x":0.1866,"y":0.0012,"y2":-0.0014},{"s":39,"m":2.39,"x":0.189,"y":0.0,"y2":-0.0002},
{"s":40,"m":2.43,"x":0.1908,"y":-0.0077,"y2":-0.009},{"s":40,"m":2.43,"x":0.1985,"y":-0.005,"y2":-0.0118},{"s":40,"m":2.43,"x":0.2074,"y":-0.0015,"y2":-0.0118},{"s":40,"m":2.43,"x":0.2098,"y":-0.0007,"y2":-0.0105},{"s":40,"m":2.43,"x":0.2305,"y":0.0031,"y2":0.0031},
{"s":41,"m":2.47,"x":0.1985,"y":-0.0115,"y2":-0.0118},{"s":41,"m":2.47,"x":0.206,"y":-0.0071,"y2":-0.0118},{"s":41,"m":2.47,"x":0.21,"y":-0.0047,"y2":-0.0094},{"s":41,"m":2.47,"x":0.218,"y":-0.0002,"y2":-0.0045},{"s":41,"m":2.47,"x":0.2245,"y":-0.0005,"y2":-0.0005},
{"s":42,"m":2.47,"x":0.172,"y":-0.0105,"y2":-0.0117},{"s":42,"m":2.47,"x":0.18,"y":-0.0108,"y2":-0.0118},
{"s":43,"m":2.47,"x":0.1845,"y":-0.0108,"y2":-0.0119},{"s":43,"m":2.47,"x":0.195,"y":-0.0104,"y2":-0.012},
{"s":44,"m":2.45,"x":0.172,"y":0.0115,"y2":0.0105},{"s":44,"m":2.45,"x":0.186,"y":0.0115,"y2":0.0098},
{"s":45,"m":2.39,"x":0.2088,"y":0.0116,"y2":0.0114},{"s":45,"m":2.39,"x":0.2239,"y":0.0113,"y2":0.0062},{"s":45,"m":2.39,"x":0.2357,"y":0.0112,"y2":0.0059},{"s":45,"m":2.39,"x":0.244,"y":0.0108,"y2":0.0045},{"s":45,"m":2.39,"x":0.2522,"y":0.0045,"y2":0.0045},
{"s":46,"m":2.39,"x":0.212,"y":-0.0117,"y2":-0.0117},{"s":46,"m":2.39,"x":0.2357,"y":-0.0013,"y2":-0.0113},{"s":46,"m":2.39,"x":0.2522,"y":0.0045,"y2":-0.011},{"s":46,"m":2.39,"x":0.263,"y":-0.0027,"y2":-0.0027},
{"s":47,"m":2.38,"x":0.2058,"y":-0.0117,"y2":-0.0117},{"s":47,"m":2.38,"x":0.213,"y":-0.0085,"y2":-0.0117},{"s":47,"m":2.38,"x":0.244,"y":0.006,"y2":0.002},{"s":47,"m":2.38,"x":0.25,"y":0.0045,"y2":0.0045},
{"s":48,"m":2.37,"x":0.207,"y":-0.0117,"y2":-0.0117},{"s":48,"m":2.37,"x":0.2115,"y":-0.0095,"y2":-0.0117},{"s":48,"m":2.37,"x":0.244,"y":0.0055,"y2":0.003},{"s":48,"m":2.37,"x":0.247,"y":0.0048,"y2":0.0048},
{"s":50,"m":2.37,"x":0.2451,"y":-0.0017,"y2":-0.0017},{"s":50,"m":2.37,"x":0.2517,"y":0.0046,"y2":-0.003},{"s":50,"m":2.37,"x":0.2579,"y":0.001,"y2":-0.0045},{"s":50,"m":2.37,"x":0.2632,"y":-0.0028,"y2":-0.0028}
]},
"mark":{"type":"area","clip":true,"interpolate":"linear"},
"encoding":{
"x":{"field":"x","type":"quantitative","axis":null},
"y":{"field":"y","type":"quantitative","axis":null},
"y2":{"field":"y2"},
"detail":{"field":"s","type":"nominal"},
"color":{"field":"m","type":"quantitative","legend":null}
}},
{"data":{"values":[{"x":0.1718,"x2":0.2039,"y":-0.0153,"y2":-0.0168}]},
"mark":{"type":"rect","color":"#b80000"},
"encoding":{"x":{"field":"x","type":"quantitative","axis":null},"x2":{"field":"x2"},"y":{"field":"y","type":"quantitative","axis":null},"y2":{"field":"y2"}}},
{"data":{"values":[{"x":0.15,"x2":0.4,"y":0.0161},{"x":0.15,"x2":0.4,"y":-0.0161}]},
"mark":{"type":"rule","color":"#111111","strokeWidth":2.5},
"encoding":{
"x":{"field":"x","type":"quantitative","axis":{"orient":"bottom","values":[0.16,0.17,0.18,0.19,0.21,0.22,0.23,0.24,0.26,0.27,0.28,0.29,0.31,0.32,0.33,0.34,0.36,0.37,0.38,0.39],"grid":false,"domain":false,"labels":false,"title":null,"tickSize":-5,"tickWidth":2.5,"tickColor":"#222222","zindex":1}},
"x2":{"field":"x2"},
"y":{"field":"y","type":"quantitative","axis":{"orient":"left","values":[-0.016,-0.014,-0.012,-0.008,-0.006,-0.004,-0.002,0.002,0.004,0.006,0.008,0.012,0.014,0.016],"grid":false,"domain":false,"labels":false,"title":null,"tickSize":-5,"tickWidth":2.5,"tickColor":"#222222","zindex":1}}}},
{"data":{"values":[{"t":"Mach:","x":0.32885,"y":0.0208}]},
"mark":{"type":"text","font":"Liberation Sans","fontSize":28,"baseline":"middle","color":"#222222"},
"encoding":{"x":{"field":"x","type":"quantitative","axis":null},"y":{"field":"y","type":"quantitative","axis":null},"text":{"field":"t"}}},
{"data":{"values":[{"t":"(","x":0.26597,"y":-0.03524},{"t":")","x":0.27173,"y":-0.03524}]},
"mark":{"type":"text","font":"Liberation Serif","fontSize":90,"baseline":"alphabetic","color":"#000000"},
"encoding":{"x":{"field":"x","type":"quantitative","axis":null},"y":{"field":"y","type":"quantitative","axis":null},"text":{"field":"t"}}},
{"data":{"values":[{"t":"a","x":0.26893,"y":-0.03524}]},
"mark":{"type":"text","font":"Liberation Serif","fontSize":90,"fontWeight":"bold","baseline":"alphabetic","color":"#000000"},
"encoding":{"x":{"field":"x","type":"quantitative","axis":null},"y":{"field":"y","type":"quantitative","axis":null},"text":{"field":"t"}}}
]
}
